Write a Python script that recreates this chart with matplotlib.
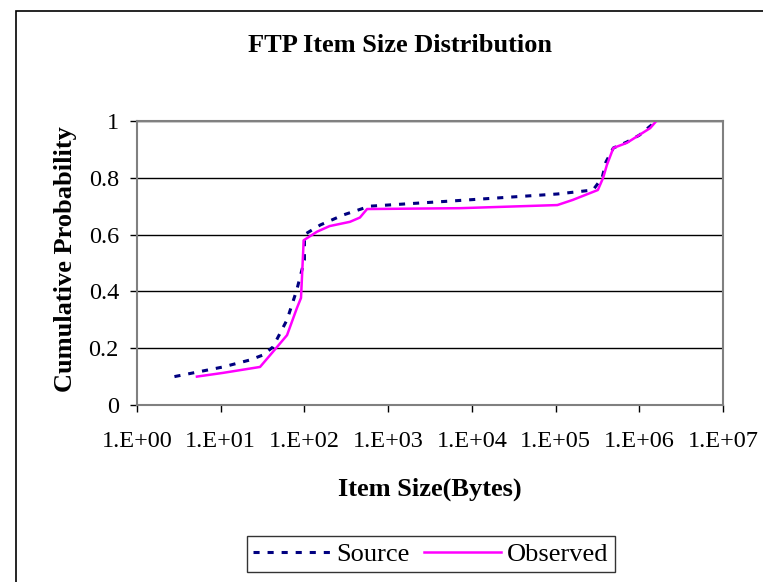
import matplotlib.pyplot as plt
from matplotlib.patches import Rectangle

# values
source_x = [2.8, 10.7, 22, 32, 42, 62, 81, 100, 100, 155, 290, 600, 5500,
            1.05e5, 2.8e5, 3.6e5, 4.0e5, 4.9e5, 7.1e5, 1.0e6, 1.6e6]
source_y = [0.10, 0.134, 0.158, 0.176, 0.204, 0.30, 0.405, 0.51, 0.60, 0.634,
            0.669, 0.70, 0.718, 0.743, 0.757, 0.80, 0.856, 0.905, 0.926,
            0.95, 1.0]

observed_x = [5.2, 10.6, 29.5, 47, 62, 81, 91, 98, 141, 200, 350, 460, 560,
              7200, 1.05e5, 1.6e5, 3.2e5, 3.7e5, 4.1e5, 4.9e5, 7.1e5,
              1.35e6, 1.6e6]
observed_y = [0.10, 0.113, 0.134, 0.204, 0.246, 0.34, 0.377, 0.58, 0.61,
              0.63, 0.645, 0.66, 0.69, 0.693, 0.704, 0.722, 0.757, 0.80,
              0.845, 0.905, 0.923, 0.975, 1.0]

x_ticks = [1e0, 1e1, 1e2, 1e3, 1e4, 1e5, 1e6, 1e7]
x_tick_labels = ["1.E+00", "1.E+01", "1.E+02", "1.E+03", "1.E+04", "1.E+05",
                 "1.E+06", "1.E+07"]
y_ticks = [0, 0.2, 0.4, 0.6, 0.8, 1]
y_tick_labels = ["0", "0.2", "0.4", "0.6", "0.8", "1"]

plt.rcParams['font.family'] = ['Liberation Serif', 'DejaVu Serif']

W, H = 763, 582
fig = plt.figure(figsize=(W / 100, H / 100), dpi=100)

# outer chart border (runs off the right and bottom edges)
fig.patches.append(Rectangle((16 / W, -0.1), 1.2, (H - 11) / H + 0.1,
                             transform=fig.transFigure, fill=False,
                             edgecolor='black', linewidth=1.2))

ax = fig.add_axes([137 / W, (H - 405) / H, (723 - 137) / W, (405 - 121) / H])

ax.plot(source_x, source_y, color='#000080', linewidth=2.2,
        dashes=(2, 2.6), label='Source')
ax.plot(observed_x, observed_y, color='#FF00FF', linewidth=1.8,
        label='Observed')

ax.set_xscale('log')
ax.set_xlim(1e0, 1e7)
ax.set_ylim(0, 1)
ax.set_xticks(x_ticks)
ax.set_xticklabels(x_tick_labels)
ax.minorticks_off()
ax.set_yticks(y_ticks)
ax.set_yticklabels(y_tick_labels)
ax.tick_params(axis='both', labelsize=17.5, direction='out', length=5,
               color='black', width=1)
ax.tick_params(axis='x', pad=14)
ax.tick_params(axis='y', pad=8)

ax.grid(True, axis='y', color='black', linewidth=1)
ax.set_axisbelow(True)
for s in ax.spines.values():
    s.set_color('#808080')
    s.set_linewidth(1.5)

fig.text(400 / W, 1 - 45 / H, "FTP Item Size Distribution", ha='center',
         va='center', fontsize=19, fontweight='bold')
fig.text(430 / W, 1 - 489 / H, "Item Size(Bytes)", ha='center',
         va='center', fontsize=19, fontweight='bold')
fig.text(66 / W, 1 - 259 / H, "Cumulative Probability", ha='center',
         va='center', rotation=90, fontsize=19, fontweight='bold')

leg = fig.legend(loc='center', bbox_to_anchor=(431 / W, 1 - 554 / H),
                 ncol=2, fontsize=19, frameon=True, fancybox=False,
                 handlelength=2.9, handletextpad=0.25, columnspacing=0.55,
                 borderpad=0.25, borderaxespad=0)
leg.get_frame().set_edgecolor('black')
leg.get_frame().set_linewidth(1)

fig.savefig("out.png", dpi=100)
